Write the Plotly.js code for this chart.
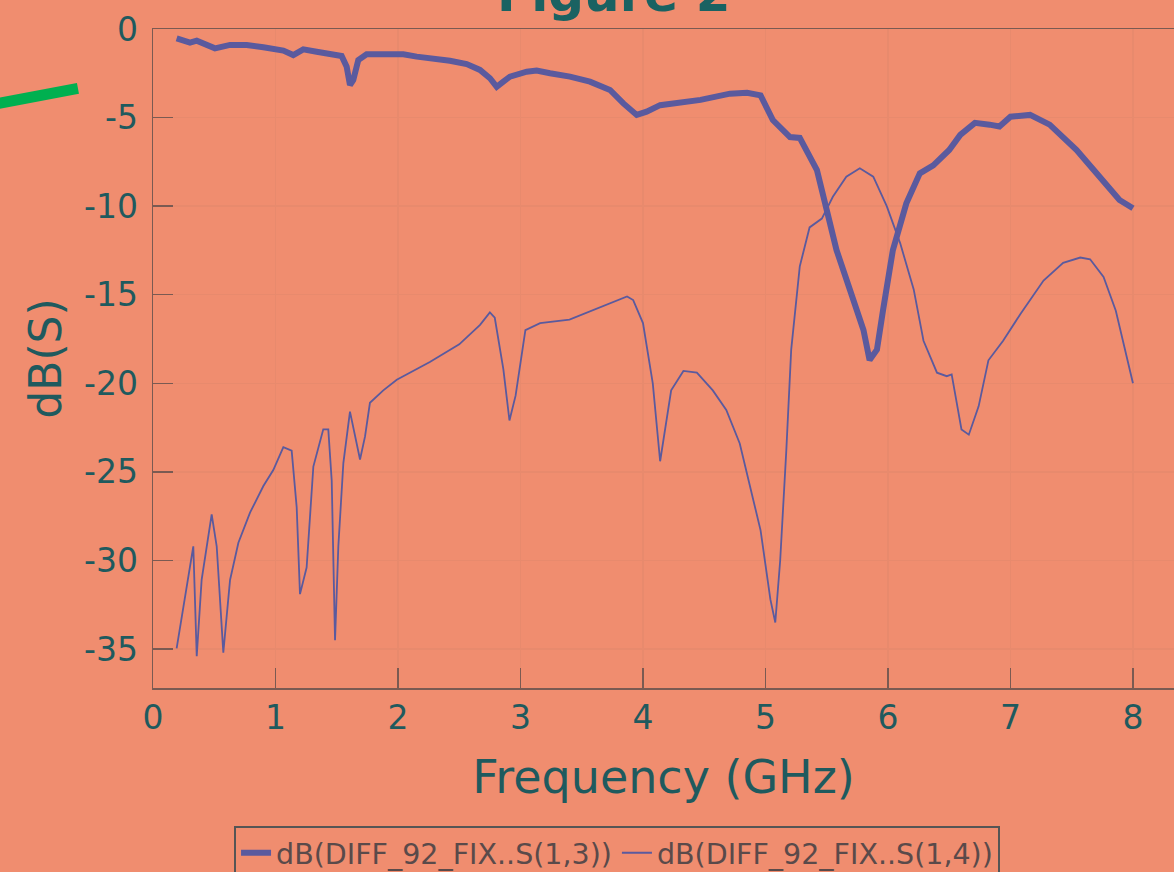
<!DOCTYPE html>
<html>
<head>
<meta charset="utf-8">
<script src="https://cdn.plot.ly/plotly-3.0.1.min.js"></script>
<style>html,body{margin:0;padding:0;background:#F08D6F;}</style>
</head>
<body>
<div id="chart" style="width:1174px;height:872px;"></div>
<script>
// S(1,3) – thick trace
const freq13 = [0.193,0.302,0.357,0.411,0.506,0.629,0.765,0.901,1.064,1.145,1.227,1.336,1.445,1.540,1.581,1.608,1.635,1.676,1.744,1.880,2.044,2.153,2.288,2.424,2.561,2.669,2.751,2.806,2.860,2.914,3.051,3.132,3.241,3.404,3.567,3.731,3.840,3.949,4.030,4.140,4.470,4.710,4.850,4.960,5.060,5.120,5.200,5.280,5.330,5.420,5.500,5.580,5.690,5.800,5.850,5.910,5.960,6.040,6.150,6.260,6.370,6.450,6.500,6.590,6.710,6.830,6.910,7.000,7.160,7.320,7.440,7.540,7.680,7.790,7.890,8.000];
const db13 = [-0.53,-0.77,-0.66,-0.81,-1.09,-0.90,-0.90,-1.03,-1.22,-1.47,-1.15,-1.28,-1.37,-1.52,-2.13,-3.16,-2.88,-1.75,-1.43,-1.41,-1.43,-1.56,-1.66,-1.79,-1.98,-2.31,-2.78,-3.26,-2.97,-2.69,-2.41,-2.35,-2.50,-2.69,-2.97,-3.44,-4.20,-4.85,-4.67,-4.30,-4.00,-3.65,-3.60,-3.75,-5.14,-5.60,-6.10,-6.15,-6.83,-7.96,-10.22,-12.48,-14.73,-16.99,-18.69,-18.10,-15.86,-12.48,-9.84,-8.15,-7.70,-7.20,-6.83,-5.98,-5.30,-5.40,-5.50,-4.95,-4.85,-5.40,-6.15,-6.83,-7.96,-8.90,-9.65,-10.12];

// S(1,4) – thin trace
const freq14 = [0.193,0.329,0.357,0.397,0.479,0.520,0.574,0.629,0.697,0.792,0.901,0.982,1.064,1.132,1.173,1.200,1.254,1.309,1.390,1.431,1.459,1.486,1.513,1.554,1.608,1.649,1.690,1.731,1.771,1.880,1.990,2.260,2.500,2.670,2.750,2.790,2.860,2.910,2.960,3.040,3.160,3.400,3.650,3.870,3.920,4.000,4.080,4.140,4.230,4.330,4.440,4.570,4.680,4.790,4.960,5.040,5.080,5.120,5.170,5.210,5.280,5.360,5.460,5.550,5.660,5.770,5.880,5.990,6.100,6.210,6.290,6.400,6.480,6.520,6.600,6.660,6.740,6.820,6.940,7.080,7.270,7.430,7.570,7.650,7.760,7.860,8.000];
const db14 = [-34.96,-29.2,-35.4,-31.1,-27.4,-29.2,-35.2,-31.1,-29.0,-27.3,-25.8,-24.9,-23.6,-23.8,-27.0,-31.9,-30.4,-24.7,-22.6,-22.6,-25.5,-34.5,-29.2,-24.5,-21.6,-23.0,-24.3,-23.0,-21.1,-20.4,-19.8,-18.8,-17.8,-16.7,-16.0,-16.3,-19.2,-22.1,-20.7,-17.0,-16.6,-16.4,-15.7,-15.1,-15.3,-16.6,-20.0,-24.4,-20.4,-19.3,-19.4,-20.4,-21.5,-23.4,-28.3,-32.2,-33.5,-30.0,-23.8,-18.1,-13.4,-11.2,-10.7,-9.47,-8.34,-7.86,-8.34,-10.0,-12.1,-14.7,-17.6,-19.4,-19.6,-19.5,-22.6,-22.9,-21.3,-18.7,-17.6,-16.1,-14.2,-13.2,-12.9,-13.0,-14.0,-15.9,-20.0];

const seriesNames = ['dB(DIFF_92_FIX..S(1,3))', 'dB(DIFF_92_FIX..S(1,4))'];
const xTicks = [0,1,2,3,4,5,6,7,8];
const yTicks = [0,-5,-10,-15,-20,-25,-30,-35];

const lineColor = '#5A5A9E';
const textColor = '#1F5A5E';
const bg = '#F08D6F';
const font = 'DejaVu Sans, Arial, sans-serif';

const traces = [
  {x: freq13, y: db13, name: seriesNames[0], mode: 'lines', line: {color: lineColor, width: 6}},
  {x: freq14, y: db14, name: seriesNames[1], mode: 'lines', line: {color: lineColor, width: 1.8}}
];

const layout = {
  width: 1174, height: 872,
  paper_bgcolor: bg, plot_bgcolor: bg,
  margin: {l: 153, r: 0, t: 29, b: 184, autoexpand: false},
  font: {family: font, color: textColor},
  showlegend: true,
  legend: {
    orientation: 'h', x: 0.4545, xanchor: 'center', y: -0.209, yanchor: 'top',
    font: {size: 28.5, color: '#5a4a4a', family: font},
    bordercolor: '#555555', borderwidth: 2, bgcolor: 'rgba(0,0,0,0)'
  },
  xaxis: {
    range: [0, 8.335], tickvals: xTicks, ticktext: xTicks.map(String), automargin: false,
    ticks: 'inside', ticklen: 20, tickwidth: 1.5, tickcolor: '#7a5a52',
    showline: true, linecolor: '#7a5a52', linewidth: 1.5, mirror: true,
    showgrid: true, gridcolor: '#E88A6D', gridwidth: 1.5, zeroline: false,
    tickfont: {size: 33, color: textColor, family: font},
    title: {text: 'Frequency (GHz)', font: {size: 46, color: textColor, family: font}, standoff: 24}
  },
  yaxis: {
    range: [-37.2, 0], tickvals: yTicks, ticktext: yTicks.map(String), automargin: false,
    ticks: 'inside', ticklen: 20, tickwidth: 1.5, tickcolor: '#7a5a52',
    showline: true, linecolor: '#7a5a52', linewidth: 1.5, mirror: false,
    showgrid: true, gridcolor: '#E88A6D', gridwidth: 1.5, zeroline: false,
    tickfont: {size: 33, color: textColor, family: font},
    ticklabelstandoff: 7,
    title: {text: 'dB(S)', font: {size: 44, color: textColor, family: font}, standoff: 8}
  },
  annotations: [{
    text: '<b>Figure 2</b>', xref: 'paper', yref: 'paper', x: 0.4508, y: 1.053,
    xanchor: 'center', yanchor: 'middle', showarrow: false,
    font: {size: 50, color: '#1A6262', family: font}
  }],
  shapes: [{
    type: 'line', xref: 'paper', yref: 'paper',
    x0: -0.152, y0: 0.887, x1: -0.0735, y1: 0.910,
    line: {color: '#00B050', width: 11}
  }]
};

Plotly.newPlot('chart', traces, layout, {displayModeBar: false, staticPlot: true});
</script>
</body>
</html>
